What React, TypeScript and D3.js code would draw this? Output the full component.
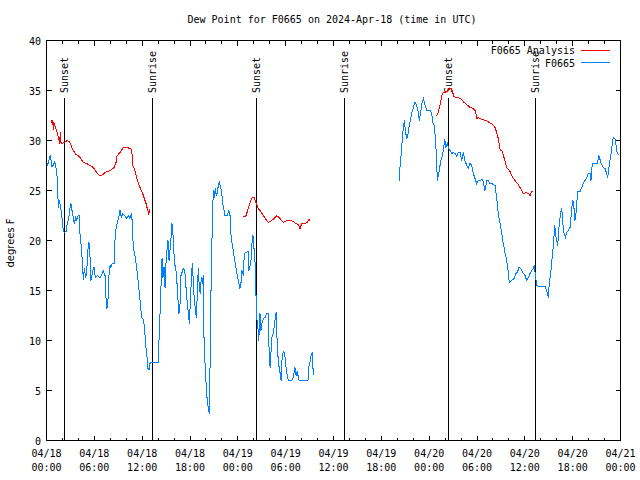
import React from "react";
import * as d3 from "d3";

const TITLE = "Dew Point for F0665 on 2024-Apr-18 (time in UTC)";
const Y_LABEL = "degrees F";
const START = Date.UTC(2024, 3, 18, 0, 0);
const SPAN_HOURS = 72;
const yTicks = [0, 5, 10, 15, 20, 25, 30, 35, 40];

// [hours since 04/18 00:00 UTC, dew point °F]
const analysisSeg1: [number, number][] = [
  [0.65, 32.1], [0.72, 31.6], [0.78, 32], [0.85, 31.1], [0.9, 31.8], [1.03, 31.5], [1.28, 31], [1.53, 30.2],
  [1.66, 29.7], [1.72, 30.8], [1.78, 29.8], [1.94, 29.7], [2.2, 29.8], [2.6, 30], [2.86, 29.9], [3.36, 29],
  [3.7, 28.6], [3.99, 28.5], [4.29, 28.2], [4.62, 27.8], [5.04, 27.7], [5.46, 27.5], [5.87, 27.3], [6.3, 26.8],
  [6.62, 26.5], [6.92, 26.5], [7.34, 26.8], [7.97, 27], [8.47, 27.3], [8.72, 27.8], [8.8, 28.4], [9.22, 28.8],
  [9.63, 29.3], [10.14, 29.3], [10.69, 29.1], [10.81, 27.5], [11.1, 27], [11.39, 26], [11.73, 25.3],
  [12.02, 24.8], [12.23, 24.3], [12.48, 23.7], [12.64, 23.2], [12.82, 22.7], [12.98, 23.1],
];
const analysisSeg2: [number, number][] = [
  [24.69, 22.4], [24.99, 22.4], [25.31, 23.2], [25.61, 24], [25.82, 24.3], [26.03, 24.3], [26.28, 23.8],
  [26.57, 23.2], [26.87, 22.9], [27.2, 22.5], [27.53, 22.1], [27.82, 21.8], [28.25, 22], [28.66, 22.3],
  [28.88, 22.5], [29.29, 22.2], [29.7, 21.8], [30.13, 22], [30.54, 22], [30.96, 21.9], [31.26, 21.7],
  [31.59, 21.6], [31.8, 21.2], [32.01, 21.7], [32.43, 21.7], [32.71, 21.8], [32.93, 22.1], [33.05, 22],
];
const analysisSeg3: [number, number][] = [
  [48.82, 32.5], [49.07, 32.6], [49.36, 33.5], [49.65, 34.7], [49.9, 34.8], [50.2, 34.9], [50.4, 35],
  [50.61, 35.2], [50.83, 35.2], [50.95, 34.8], [51.12, 34.4], [51.45, 34.3], [51.96, 34.2], [52.37, 33.8],
  [52.71, 33.6], [53.12, 33.3], [53.54, 33.2], [53.84, 32.9], [53.96, 32.2], [54.17, 32.3], [54.59, 32.1],
  [55.13, 32], [55.54, 31.8], [55.97, 31.6], [56.26, 31.3], [56.47, 30.8], [56.67, 30.2], [56.89, 29.1],
  [57.17, 28.9], [57.39, 28.3], [57.73, 27.3], [58.14, 26.9], [58.48, 26.3], [58.77, 26], [59.18, 25.6],
  [59.61, 25], [59.81, 24.7], [60.15, 24.8], [60.44, 24.7], [60.65, 24.5], [60.86, 24.9], [60.99, 24.9],
];
const obsSeg1: [number, number][] = [
  [0.1, 27.5], [0.23, 27.8], [0.35, 28.2], [0.48, 28.5], [0.56, 28.1], [0.65, 27.4], [0.85, 27.5], [0.98, 27.9],
  [1.15, 27.5], [1.35, 26.3], [1.48, 23.3], [1.61, 24], [1.78, 23.3], [1.94, 22.3], [2.11, 21], [2.23, 20.8],
  [2.45, 20.9], [2.61, 21.7], [2.78, 22.2], [2.95, 23.3], [3.07, 23.7], [3.2, 23], [3.36, 22.3], [3.49, 21.7],
  [3.66, 22.3], [3.79, 22], [3.91, 22.4], [4.08, 22.5], [4.2, 20.7], [4.37, 19.3], [4.49, 18], [4.62, 16.1],
  [4.74, 17.2], [4.92, 16.3], [5.04, 16.7], [5.17, 19], [5.33, 19.8], [5.46, 18.3], [5.58, 16], [5.8, 17],
  [5.96, 17.3], [6.12, 16.3], [6.37, 16.5], [6.71, 16.3], [6.92, 16.5], [7.12, 17], [7.34, 16.5], [7.46, 14.3],
  [7.59, 13.2], [7.71, 14], [7.84, 16.5], [7.97, 17.5], [8.09, 17.3], [8.22, 17.7], [8.47, 17.7], [8.59, 20],
  [8.72, 21.2], [8.88, 21.8], [9.06, 22.3], [9.22, 23], [9.38, 22.3], [9.56, 22.7], [9.81, 22.5], [10.06, 22.2],
  [10.31, 22.5], [10.47, 22.2], [10.69, 22.7], [10.89, 19.3], [11.14, 18.3], [11.31, 17.3], [11.48, 16],
  [11.73, 14], [11.94, 12.3], [12.1, 12.2], [12.23, 11.7], [12.36, 10.5], [12.48, 9.3], [12.61, 8.3],
  [12.73, 7.2], [12.86, 7.1], [12.98, 7.7], [13.11, 7.8], [13.4, 7.8], [13.99, 7.8], [14.11, 10], [14.24, 12.7],
  [14.36, 15.3], [14.49, 18.2], [14.61, 16.3], [14.74, 17.3], [14.87, 15.3], [14.99, 17.7], [15.11, 19],
  [15.24, 20], [15.37, 18], [15.49, 19], [15.62, 20.3], [15.74, 21.7], [15.87, 20.5], [15.99, 18.7],
  [16.12, 17.5], [16.24, 17], [16.37, 15.7], [16.5, 14], [16.62, 12.7], [16.75, 13.7], [16.87, 16.5], [17, 16.8],
  [17.16, 17.2], [17.34, 17], [17.5, 15.3], [17.66, 13.7], [17.79, 12.8], [17.91, 11.7], [18.04, 13.7],
  [18.16, 16], [18.29, 17.7], [18.41, 16], [18.54, 14], [18.67, 13.2], [18.79, 12.3], [18.92, 14.7],
  [19.04, 17.2], [19.17, 15.3], [19.29, 14.7], [19.42, 16.3], [19.54, 15.7], [19.67, 16.5], [19.79, 8],
  [19.92, 7.7], [20.05, 5], [20.17, 4], [20.3, 3.2], [20.42, 2.7], [20.55, 9.2], [20.67, 17.3], [20.8, 21.5],
  [20.92, 25], [21.05, 24.3], [21.17, 25.2], [21.3, 24.5], [21.43, 24.8], [21.55, 25.5], [21.68, 25.8],
  [21.8, 25.5], [21.98, 24.8], [22.1, 23.7], [22.27, 23], [22.39, 22.5], [22.68, 22.5], [22.86, 23],
  [23.02, 22.5], [23.11, 20.8], [23.27, 19.7], [23.43, 19], [23.61, 18], [23.77, 17.3], [23.93, 16.5],
  [24.11, 15.8], [24.27, 15.2], [24.4, 15.8], [24.52, 17], [24.69, 16.5], [24.81, 18.7], [25.03, 18.8],
  [25.28, 18.9], [25.4, 17], [25.53, 17.5], [25.65, 18], [25.78, 19.8], [25.9, 20.5], [26.03, 19.2],
  [26.15, 18], [26.28, 14.5], [26.36, 12.3], [26.49, 11.7], [26.62, 10], [26.78, 12.7], [26.9, 11],
  [27.03, 11.7], [27.2, 12.2], [27.41, 12.3], [27.62, 12.7], [27.82, 12.7], [27.95, 8], [28.07, 7.3],
  [28.25, 10.3], [28.45, 10.7], [28.66, 12], [28.79, 12.8], [28.91, 10.3], [29.08, 7.8], [29.29, 6.8],
  [29.42, 6], [29.54, 8], [29.7, 8.9], [29.88, 8.7], [30, 7.7], [30.13, 6.8], [30.33, 6], [30.76, 6],
  [30.96, 6.3], [31.17, 7.3], [31.3, 6.5], [31.46, 6.9], [31.59, 6.3], [31.71, 6], [32.01, 6], [32.43, 6],
  [32.8, 6], [32.89, 7.3], [33.05, 7.8], [33.22, 8.7], [33.34, 8.8], [33.47, 6.5],
];
const obsSeg2: [number, number][] = [
  [44.25, 26], [44.34, 27.3], [44.47, 28.5], [44.59, 29.7], [44.76, 31.3], [44.88, 32], [45.01, 31],
  [45.18, 30.2], [45.31, 30.5], [45.47, 31.3], [45.63, 32], [45.81, 32.7], [46.01, 33.3], [46.22, 33.8],
  [46.44, 33.5], [46.64, 32.8], [46.76, 32], [46.94, 32.8], [47.1, 33.7], [47.27, 34.2], [47.44, 33.7],
  [47.69, 33], [48.11, 33], [48.32, 32.7], [48.44, 31.8], [48.64, 31.5], [48.82, 29.8], [48.95, 27.7],
  [49.02, 26], [49.15, 26.5], [49.27, 27], [49.45, 28], [49.61, 28.3], [49.77, 29], [49.95, 30.1],
  [50.11, 29.3], [50.28, 29.7], [50.4, 29.3], [50.61, 29], [50.83, 28.7], [51.03, 28.8], [51.24, 28.7],
  [51.45, 28.4], [51.66, 28.8], [51.87, 28.8], [52.08, 28], [52.28, 28.8], [52.49, 28], [52.71, 27.5],
  [52.91, 27.2], [53.12, 27.7], [53.34, 27.5], [53.54, 26.7], [53.75, 26.2], [53.96, 25.7], [54.17, 26],
  [54.38, 26], [54.72, 26.1], [55, 25], [55.22, 26], [55.42, 26], [55.63, 25.7], [55.84, 25.7], [56.26, 25.5],
  [56.47, 24.3], [56.67, 22.7], [56.89, 21.7], [57.1, 20.7], [57.3, 19.7], [57.51, 18.8], [57.73, 18],
  [57.93, 16.8], [58.05, 15.8], [58.35, 16], [58.64, 16.2], [58.89, 16.7], [59.06, 16.8], [59.27, 17.3],
  [59.48, 17.2], [59.73, 16.8], [60.02, 16.5], [60.24, 16], [60.44, 16.3], [60.65, 16.7], [60.86, 17],
  [61.06, 17.2], [61.19, 17.5], [61.36, 16.3], [61.49, 15.5], [61.9, 15.4], [62.53, 15.4], [62.74, 15],
  [62.94, 14.3], [63.07, 15.7], [63.25, 16.8], [63.37, 17.8], [63.5, 18.8], [63.62, 20], [63.75, 21.5],
  [63.87, 20.5], [64, 20], [64.12, 19.5], [64.25, 21], [64.37, 22], [64.5, 22.8], [64.63, 23.2], [64.75, 21.8],
  [64.91, 20.8], [65.08, 20.3], [65.25, 20.8], [65.45, 21], [65.67, 21.3], [65.79, 22.3], [65.92, 23.5],
  [66.04, 24], [66.17, 23.2], [66.29, 22], [66.42, 22.8], [66.54, 24], [66.67, 24.9], [66.92, 24.9],
  [67.13, 25.3], [67.33, 25.7], [67.55, 26], [67.76, 26.3], [67.96, 26.7], [68.18, 26.7], [68.3, 26],
  [68.46, 27.7], [68.8, 27.7], [69.09, 27.7], [69.3, 28.5], [69.56, 27.7], [69.84, 27.3], [70.06, 27.2],
  [70.27, 26.7], [70.4, 26.3], [70.52, 27.2], [70.68, 28], [70.85, 28.8], [70.97, 29.7], [71.1, 30.3],
  [71.31, 30.2], [71.44, 29.5], [71.6, 28.7], [71.85, 28.6],
];

const sunEvents: { label: string; hour: number }[] = [
  { label: "Sunset", hour: 2.2 },
  { label: "Sunrise", hour: 13.27 },
  { label: "Sunset", hour: 26.32 },
  { label: "Sunrise", hour: 37.32 },
  { label: "Sunset", hour: 50.4 },
  { label: "Sunrise", hour: 61.32 },
];

const legendItems = [
  { label: "F0665 Analysis", color: "#ff0000" },
  { label: "F0665", color: "#0080ff" },
];

const MONO = "'DejaVu Sans Mono', 'Liberation Mono', monospace";

const toDate = (h: number) => new Date(START + h * 3600 * 1000);

export default function App() {
  const left = 46.5, right = 620.5, top = 40.5, bottom = 440.5;
  const x = d3.scaleUtc().domain([toDate(0), toDate(SPAN_HOURS)]).range([left, right]);
  const y = d3.scaleLinear().domain([0, 40]).range([bottom, top]);
  const line = d3
    .line<[number, number]>()
    .x((d) => x(toDate(d[0])))
    .y((d) => y(d[1]));

  const majorTicks = x.ticks(d3.utcHour.every(6)!);
  const minorTicks = x.ticks(d3.utcHour.every(2)!).filter((t) => t.getUTCHours() % 6 !== 0);
  const fmtDate = d3.utcFormat("%m/%d");
  const fmtTime = d3.utcFormat("%H:%M");

  return (
    <svg
      width={640}
      height={480}
      style={{ position: "absolute", left: 0, top: 0, background: "#fff" }}
      fontFamily={MONO}
      fontSize={10}
    >
      <rect x={0} y={0} width={640} height={480} fill="#fff" />
      <text x={332} y={23} textAnchor="middle" fill="#000">{TITLE}</text>

      {/* y ticks */}
      {yTicks.map((v) => (
        <g key={"y" + v}>
          <line x1={left} x2={left + 5} y1={y(v)} y2={y(v)} stroke="#000" shapeRendering="crispEdges" />
          <line x1={right} x2={right - 5} y1={y(v)} y2={y(v)} stroke="#000" shapeRendering="crispEdges" />
          <text x={41} y={y(v) + 4} textAnchor="end" fill="#000">{v}</text>
        </g>
      ))}

      {/* x ticks */}
      {majorTicks.map((t, i) => (
        <g key={"xm" + i}>
          <line x1={x(t)} x2={x(t)} y1={bottom} y2={bottom - 5} stroke="#000" shapeRendering="crispEdges" />
          <line x1={x(t)} x2={x(t)} y1={top} y2={top + 5} stroke="#000" shapeRendering="crispEdges" />
          <text x={x(t)} y={457} textAnchor="middle" fill="#000">{fmtDate(t)}</text>
          <text x={x(t)} y={471} textAnchor="middle" fill="#000">{fmtTime(t)}</text>
        </g>
      ))}
      {minorTicks.map((t, i) => (
        <g key={"xn" + i} shapeRendering="crispEdges">
          <line x1={x(t)} x2={x(t)} y1={bottom} y2={bottom - 3} stroke="#000" />
          <line x1={x(t)} x2={x(t)} y1={top} y2={top + 3} stroke="#000" />
        </g>
      ))}

      {/* sun events */}
      {sunEvents.map((s, i) => {
        const sx = x(toDate(s.hour));
        return (
          <g key={"s" + i}>
            <line x1={sx} x2={sx} y1={98} y2={bottom} stroke="#000" strokeWidth={1} shapeRendering="crispEdges" />
            <text transform={`translate(${sx + 4},93) rotate(-90)`} textAnchor="start" fill="#000">{s.label}</text>
          </g>
        );
      })}

      {/* data */}
      {[analysisSeg1, analysisSeg2, analysisSeg3].map((seg, i) => (
        <path key={"a" + i} d={line(seg) || ""} fill="none" stroke={legendItems[0].color} strokeWidth={1} shapeRendering="crispEdges" />
      ))}
      {[obsSeg1, obsSeg2].map((seg, i) => (
        <path key={"o" + i} d={line(seg) || ""} fill="none" stroke={legendItems[1].color} strokeWidth={1} shapeRendering="crispEdges" />
      ))}

      {/* border */}
      <rect x={left} y={top} width={right - left} height={bottom - top} fill="none" stroke="#000" shapeRendering="crispEdges" />

      {/* y label */}
      <text
        transform="translate(14,243) rotate(-90)"
        textAnchor="middle"
        fontFamily="'DejaVu Sans', sans-serif"
        fontSize={10}
        fill="#000"
      >
        {Y_LABEL}
      </text>

      {/* legend */}
      {legendItems.map((it, i) => (
        <g key={"l" + i}>
          <text x={575} y={54 + i * 12.5} textAnchor="end" fill="#000">{it.label}</text>
          <line x1={581} x2={610} y1={50.5 + i * 12} y2={50.5 + i * 12} stroke={it.color} shapeRendering="crispEdges" />
        </g>
      ))}
    </svg>
  );
}
